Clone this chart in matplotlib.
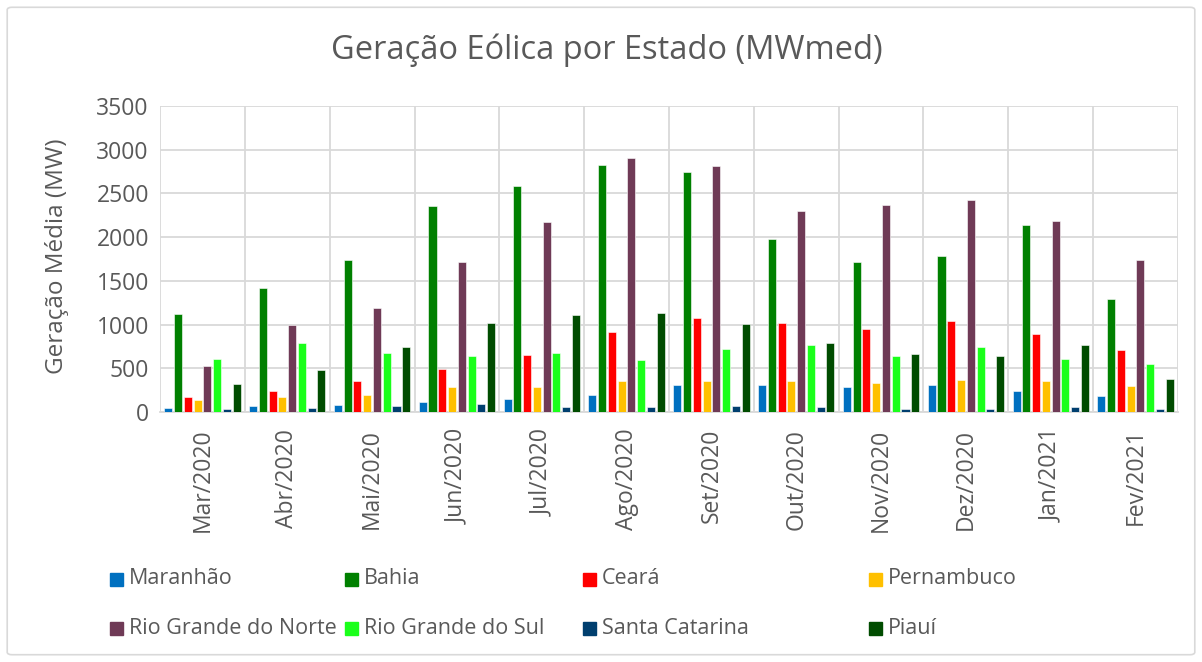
import numpy as np
import matplotlib
matplotlib.use("Agg")
from matplotlib import pyplot as plt
from matplotlib.patches import Rectangle, FancyBboxPatch

plt.rcParams['font.family'] = ['Open Sans', 'DejaVu Sans']

months = ['Mar/2020', 'Abr/2020', 'Mai/2020', 'Jun/2020', 'Jul/2020', 'Ago/2020',
          'Set/2020', 'Out/2020', 'Nov/2020', 'Dez/2020', 'Jan/2021', 'Fev/2021']

states = ['Maranhão', 'Bahia', 'Ceará', 'Pernambuco',
          'Rio Grande do Norte', 'Rio Grande do Sul', 'Santa Catarina', 'Piauí']

maranhao = [50, 65, 85, 120, 150, 200, 310, 310, 290, 310, 240, 180]
bahia = [1120, 1420, 1740, 2360, 2580, 2820, 2750, 1980, 1710, 1790, 2140, 1290]
ceara = [170, 240, 360, 490, 650, 920, 1080, 1020, 950, 1040, 890, 710]
pernambuco = [140, 170, 190, 290, 290, 350, 350, 350, 330, 370, 350, 300]
rn = [530, 990, 1190, 1720, 2170, 2900, 2810, 2300, 2370, 2420, 2180, 1740]
rs = [610, 790, 680, 640, 670, 590, 720, 770, 640, 740, 610, 550]
sc = [30, 50, 70, 90, 60, 60, 70, 60, 40, 40, 60, 40]
piaui = [320, 480, 740, 1020, 1110, 1130, 1010, 790, 660, 640, 770, 380]

series = [maranhao, bahia, ceara, pernambuco, rn, rs, sc, piaui]
colors = ['#0070C0', '#008000', '#FF0000', '#FFC000',
          '#6F3A56', '#1AFF1A', '#003F6F', '#004C00']

txt = '#595959'
grid = '#D9D9D9'

fig = plt.figure(figsize=(12.02, 6.62), dpi=100)
fig.patches.append(FancyBboxPatch((0.006, 0.011), 0.988, 0.978,
                                  boxstyle='round,pad=0,rounding_size=0.004',
                                  transform=fig.transFigure, fill=False,
                                  edgecolor=grid, linewidth=1.2))

ax = fig.add_axes([160 / 1202, 1 - 412 / 662, 1018 / 1202, 306 / 662])

x = np.arange(len(months))
slot = 0.115
width = 0.095
for i, (vals, c) in enumerate(zip(series, colors)):
    ax.bar(x + (i - 3.5) * slot, vals, width=width, color=c,
           edgecolor='white', linewidth=0.4, zorder=3, label=states[i])

ax.set_xlim(-0.5, len(months) - 0.5)
ax.set_ylim(0, 3500)
ax.set_yticks(np.arange(0, 3501, 500))
ax.set_xticks(x)
ax.set_xticklabels(months, rotation=90, fontsize=16.5, color=txt)
ax.set_xticks(np.arange(-0.5, len(months)), minor=True)
ax.tick_params(axis='y', labelsize=16.5, labelcolor=txt, length=0, pad=8)
ax.tick_params(axis='x', which='both', length=0, pad=12)
ax.grid(axis='y', color=grid, linewidth=1.3, zorder=0)
ax.grid(axis='x', which='minor', color=grid, linewidth=1.3, zorder=0)
for s in ['top', 'right', 'left']:
    ax.spines[s].set_visible(False)
ax.spines['bottom'].set_color(grid)
ax.spines['bottom'].set_linewidth(1.3)

fig.text(57 / 1202, 1 - 256 / 662, 'Geração Média (MW)', rotation=90,
         ha='center', va='center', fontsize=17.5, color=txt)
fig.text(607 / 1202, 1 - 50 / 662, 'Geração Eólica por Estado (MWmed)', ha='center',
         va='center', fontsize=23.5, color=txt)

# legend, laid out by hand to follow the Excel spacing
col_x = [110, 345, 583, 869]
row_y = [579, 628]
for i, name in enumerate(states):
    cx = col_x[i % 4]
    cy = row_y[i // 4]
    fig.patches.append(Rectangle((cx / 1202, 1 - (cy + 7) / 662), 13 / 1202, 13 / 662,
                                 transform=fig.transFigure, color=colors[i]))
    fig.text((cx + 19) / 1202, 1 - cy / 662, name, ha='left', va='center',
             fontsize=15.5, color=txt)

fig.savefig('out.png', dpi=100)
